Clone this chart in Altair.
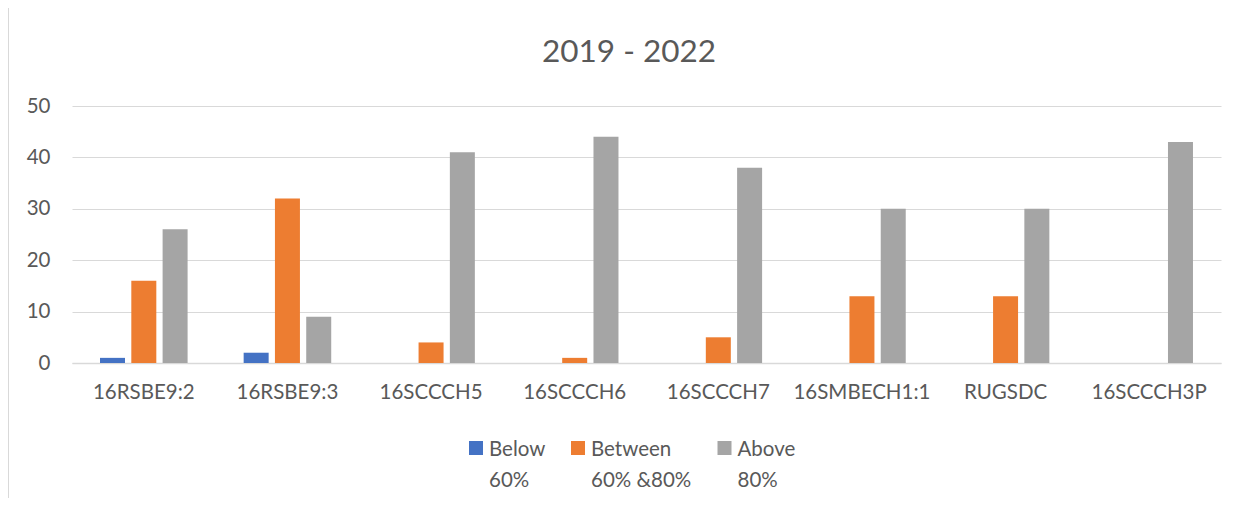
import altair as alt
import pandas as pd

categories = ["16RSBE9:2", "16RSBE9:3", "16SCCCH5", "16SCCCH6", "16SCCCH7",
              "16SMBECH1:1", "RUGSDC", "16SCCCH3P"]
below_60 = [1, 2, 0, 0, 0, 0, 0, 0]
between_60_80 = [16, 32, 4, 1, 5, 13, 13, 0]
above_80 = [26, 9, 41, 44, 38, 30, 30, 43]
series_names = ["Below 60%", "Between 60% &80%", "Above 80%"]
legend_line1 = ["Below", "Between", "Above"]
legend_line2 = ["60%", "60% &80%", "80%"]
series_colors = ["#4472C4", "#ED7D31", "#A5A5A5"]
title_text = "2019 - 2022"

rows = []
for i, c in enumerate(categories):
    for s, vals in zip(series_names, [below_60, between_60_80, above_80]):
        rows.append({"category": c, "series": s, "value": vals[i]})
df = pd.DataFrame(rows)

FONT = "Lato"
TXT = "#595959"
FS = 20.5

bars = alt.Chart(df).mark_bar(size=25).encode(
    x=alt.X("category:N", sort=categories, title=None,
            scale=alt.Scale(paddingInner=0.39, paddingOuter=0.195),
            axis=alt.Axis(labelAngle=0, labelFontSize=FS, labelColor=TXT,
                          labelFont=FONT, labelPadding=19, ticks=False,
                          domainColor="#d9d9d9", domainWidth=1.5, grid=False)),
    xOffset=alt.XOffset("series:N", sort=series_names,
                        scale=alt.Scale(paddingInner=0.2, paddingOuter=0)),
    y=alt.Y("value:Q", title=None,
            scale=alt.Scale(domain=[0, 50], nice=False),
            axis=alt.Axis(values=[0, 10, 20, 30, 40, 50], labelFontSize=FS,
                          labelColor=TXT, labelFont=FONT, labelPadding=22,
                          ticks=False, domain=False, gridColor="#d9d9d9",
                          gridWidth=1)),
    color=alt.Color("series:N", sort=series_names,
                    scale=alt.Scale(domain=series_names, range=series_colors),
                    legend=None),
)

base = alt.Chart(pd.DataFrame({"a": [0]}))

frame_line = base.mark_rule(color="#d9d9d9", strokeWidth=1).encode(
    x=alt.value(-63.5), y=alt.value(-98), y2=alt.value(392))

title = base.mark_text(font=FONT, fontSize=31.5, color=TXT, align="center",
                       baseline="middle").encode(
    x=alt.value(557), y=alt.value(-53), text=alt.value(title_text))

legend_layers = []
sq_x = [404, 506, 652.5]
tx_x = [417, 519, 665.5]
for i in range(3):
    legend_layers.append(base.mark_square(size=196, color=series_colors[i],
                                          opacity=1).encode(
        x=alt.value(sq_x[i]), y=alt.value(342)))
    legend_layers.append(base.mark_text(font=FONT, fontSize=FS, color=TXT,
                                        align="left", baseline="middle").encode(
        x=alt.value(tx_x[i]), y=alt.value(343.5), text=alt.value(legend_line1[i])))
    legend_layers.append(base.mark_text(font=FONT, fontSize=FS, color=TXT,
                                        align="left", baseline="middle").encode(
        x=alt.value(tx_x[i]), y=alt.value(374.5), text=alt.value(legend_line2[i])))

chart = alt.layer(frame_line, bars, title, *legend_layers).properties(
    width=1149, height=257,
    autosize=alt.AutoSizeParams(type="none"),
    padding={"left": 64, "top": 98, "right": 8, "bottom": 135},
).configure(background="white").configure_view(stroke=None)

chart.save("out.html", embed_options={"renderer": "svg", "actions": False})
